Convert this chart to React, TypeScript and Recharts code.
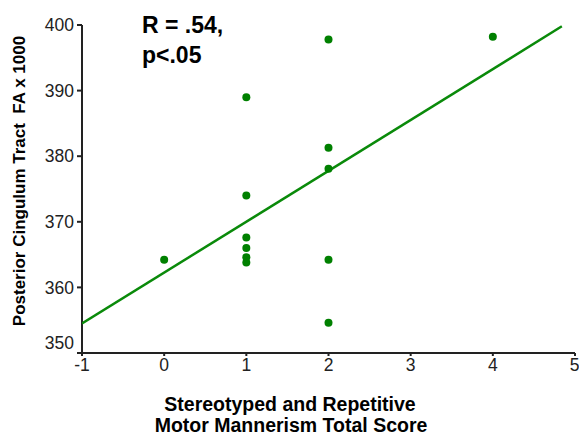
import React from 'react';
import { Scatter, ScatterChart, XAxis, YAxis } from 'recharts';

const scores = [0, 1, 1, 1, 1, 1, 1, 2, 2, 2, 2, 2, 4];
const faValues = [364.2, 374.0, 367.6, 366.0, 364.6, 363.8, 389.0, 397.8, 381.3, 378.1, 364.2, 354.6, 398.2];
const fitX = [-1, 4.84];
const fitY = [354.5, 399.8];
const xTicks = [-1, 0, 1, 2, 3, 4, 5];
const yTicks = [350, 360, 370, 380, 390, 400];

const points = scores.map((x, i) => ({ x, y: faValues[i] }));
const fitLine = fitX.map((x, i) => ({ x, y: fitY[i] }));

const FONT = '"Liberation Sans", Arial, sans-serif';
const GREEN = '#008000';
const AXIS = '#222222';

const YTick = (props: any) => {
  const { x, y, payload } = props;
  const shift = payload.value === 350 ? -10 : 0;
  return (
    <text x={x} y={y + shift} dy="0.355em" textAnchor="end" fontFamily={FONT} fontSize={17.5} fill="#222">
      {payload.value}
    </text>
  );
};

export default function App() {
  return (
    <div style={{ position: 'absolute', left: 0, top: 0, width: 579, height: 437, background: '#fff' }}>
      <ScatterChart width={579} height={437} margin={{ top: 25, right: 4, left: 0, bottom: 54 }}>
        <XAxis
          dataKey="x"
          type="number"
          domain={[-1, 5]}
          ticks={xTicks}
          allowDataOverflow
          stroke={AXIS}
          strokeWidth={2}
          tickSize={3}
          tickMargin={3}
          height={30}
          tick={{ fontFamily: FONT, fontSize: 17.5, fill: '#222' }}
        />
        <YAxis
          dataKey="y"
          type="number"
          domain={[350, 400]}
          ticks={yTicks}
          allowDataOverflow
          stroke={AXIS}
          strokeWidth={2}
          tickSize={5}
          tickMargin={3}
          width={82}
          tick={<YTick />}
        />
        <Scatter
          data={fitLine}
          line={{ stroke: '#0a8a0a', strokeWidth: 2.5 }}
          shape={() => null}
          isAnimationActive={false}
        />
        <Scatter data={points} fill={GREEN} shape={(p: any) => <circle cx={p.cx} cy={p.cy} r={4} fill={GREEN} />} isAnimationActive={false} />
        <g fontFamily={FONT} fontWeight="bold" fill="#000">
          <text x={142} y={33} fontSize={23}>R = .54,</text>
          <text x={142} y={63} fontSize={23}>p&lt;.05</text>
          <text x={290} y={411} fontSize={19.5} textAnchor="middle">Stereotyped and Repetitive</text>
          <text x={291} y={431.5} fontSize={19.5} textAnchor="middle">Motor Mannerism Total Score</text>
          <text x={0} y={0} fontSize={17} textAnchor="middle" style={{ whiteSpace: 'pre' }} transform="translate(25,181) rotate(-90)">
            {'Posterior Cingulum Tract  FA x 1000'}
          </text>
        </g>
      </ScatterChart>
    </div>
  );
}
